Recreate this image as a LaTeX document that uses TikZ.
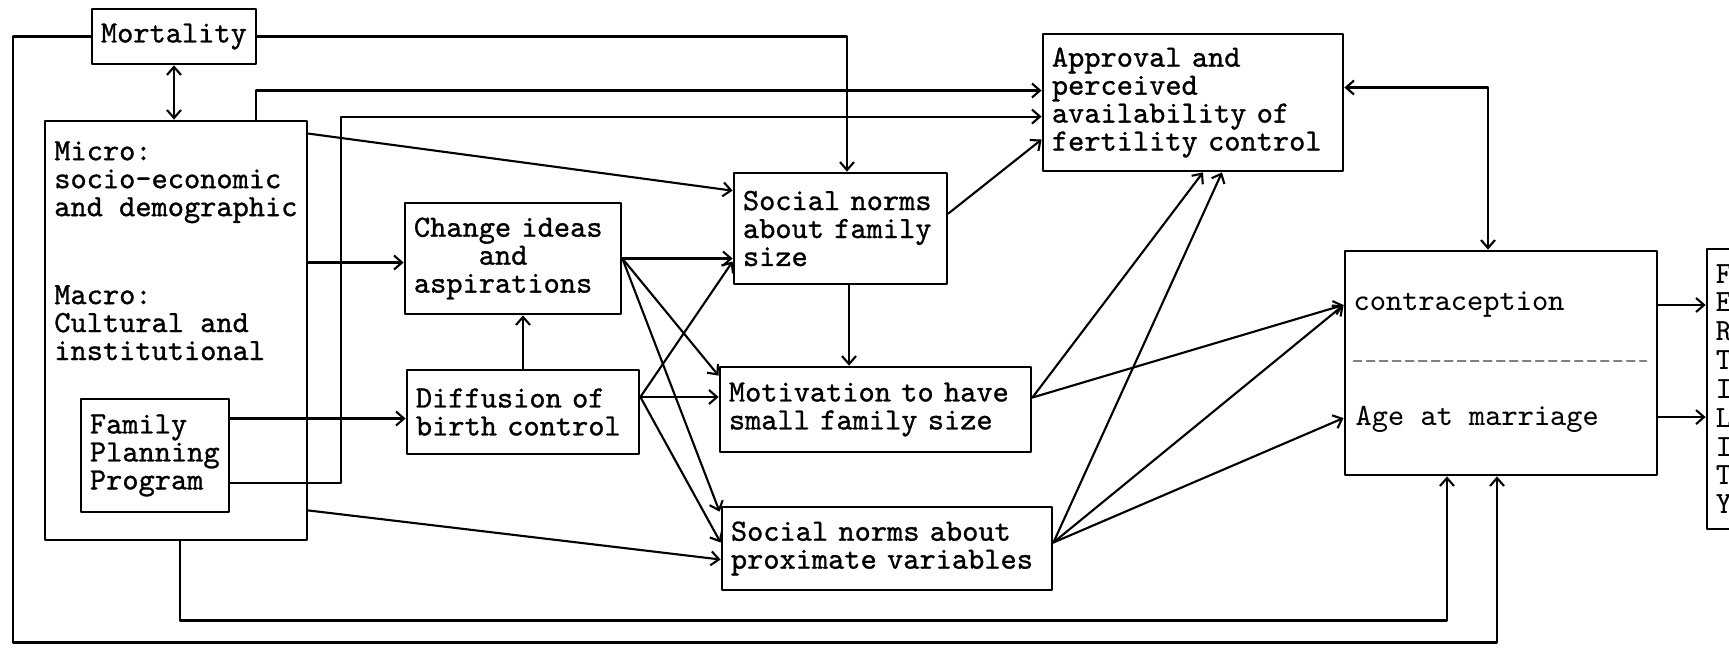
\documentclass[tikz,border=0pt]{standalone}
\usepackage{fontspec}
\newfontfamily\typewfont{lmmono10-regular.otf}[FakeBold=1]
\usetikzlibrary{arrows.meta,calc,positioning}

\begin{document}
\begin{tikzpicture}[x=0.01cm,y=-0.01cm,line cap=round,line join=round,
  >={Straight Barb[length=0.8mm,width=1.4mm]},
  box/.style={draw,line width=0.75pt,inner xsep=0.09cm,inner ysep=0,align=left,
   font=\typewfont\fontsize{8.78}{7.95}\selectfont},
  plain/.style={inner sep=0,align=left,font=\ttfamily\fontsize{8.78}{7.95}\selectfont},
  link/.style={->,line width=0.6pt}]
 \useasboundingbox (0,0) rectangle (1729,647);

 % boxes
 \node[box,text width=1.46cm,minimum height=0.55cm] (mort) at (174,36.5) {Mortality};
 \node[box,minimum width=2.62cm,minimum height=4.19cm] (micro) at (176,330.5) {};
 \node[box,draw=none,inner sep=0,anchor=north west] (microtxt) at (53,140)
  {Micro:\\socio-economic\\and demographic\\[0.6cm]Macro:\\Cultural and\\institutional};
 \node[box,text width=1.30cm,minimum height=1.13cm] (fpp) at (155,455.5)
  {Family\\Planning\\Program};
 \node[box,text width=1.98cm,minimum height=1.11cm] (change) at (513,258.5)
  {Change ideas\\\phantom{Chan}and\\aspirations};
 \node[box,text width=2.14cm,minimum height=0.84cm] (diff) at (523,412)
  {Diffusion of\\birth control};
 \node[box,text width=1.95cm,minimum height=1.11cm] (sfam) at (840.5,228.5)
  {Social norms\\about family\\size};
 \node[box,text width=2.93cm,minimum height=0.85cm] (motiv) at (875.5,409.5)
  {Motivation to have\\small family size};
 \node[box,text width=3.12cm,minimum height=0.83cm] (sprox) at (887,548.5)
  {Social norms about\\proximate variables};
 \node[box,text width=2.82cm,minimum height=1.37cm] (appr) at (1193,102.5)
  {Approval and\\perceived\\availability of\\fertility control};
 \node[box,minimum width=3.12cm,minimum height=2.24cm] (fert) at (1501,363) {};
 \node[plain,anchor=west] (contra) at (1353,305) {contraception};
 \node[plain,anchor=west] (agemar) at (1355,419) {Age at marriage};
 \draw[gray,line width=0.5pt,dash pattern=on 0.08cm off 0.05cm]
  ($(fert.west)+(10,-2)$) -- ($(fert.east)+(-12,-2)$);
 \node[box,text width=0.82cm,minimum height=2.80cm,
  font=\ttfamily\fontsize{8.78}{8.2}\selectfont] (fbox) at (1757,389)
  {F\\E\\R\\T\\I\\L\\I\\T\\Y};

 % loops round the outside
 \draw[<->,line width=0.6pt] (mort.south) -- (mort.south |- micro.north);
 \draw[link] (mort.east) -| ([xshift=0.065cm]sfam.north);
 \coordinate (loopout) at ($(mort.west)+(-78,606)$);
 \draw[link] (mort.west) -| (loopout) -| ($(fert.south)+(-4,0)$);
 \coordinate (loopin) at ($(micro.south)+(4,79)$);
 \draw[link] ($(micro.south)+(4,0)$) -- (loopin) -| ($(fert.south)+(-54,0)$);
 \draw[link] ($(micro.north)+(80,0)$) |- ($(appr.west)+(0,-12)$);
 \coordinate (fppbend) at ($(micro.north east)+(33,-3)$);
 \draw[link] ($(fpp.east)+(0,27.5)$) -| (fppbend) -- (fppbend -| appr.west);

 % background variables
 \draw[link] ($(micro.north east)+(0,14)$) -- ($(sfam.north west)+(0,19)$);
 \draw[link] ($(micro.east)+(0,-68)$) -- ($(change.west)+(0,4)$);
 \draw[link] ($(fpp.east)+(0,-37)$) -- ($(diff.west)+(0,6.5)$);
 \draw[link] ($(micro.south east)+(0,-31)$) -- ($(sprox.west)+(0,11)$);
 \draw[link] (diff.north) -- (diff.north |- change.south);

 % ideas and diffusion
 \draw[link] (change.east) -- (change.east -| sfam.west);
 \draw[link] (change.east) -- ($(motiv.north west)+(0,10)$);
 \draw[link] (change.east) -- ($(sprox.north west)+(-1,6)$);
 \draw[link] ($(diff.east)+(0,-15)$) -- ($(sfam.west)+(0,33)$);
 \draw[link] ($(diff.east)+(0,-15)$) -- ($(motiv.west)+(0,-12.5)$);
 \draw[link] ($(diff.east)+(0,-15)$) -- ($(sprox.west)+(0,-6)$);

 % norms and motivation
 \draw[link] ([xshift=0.085cm]sfam.south) -- ([xshift=0.085cm]sfam.south |- motiv.north);
 \draw[link] ($(sfam.east)+(0,-15)$) -- ($(appr.west)+(0,37)$);
 \draw[link] ($(motiv.east)+(0,-12)$) -- ($(appr.south)+(10,0)$);
 \draw[link] ($(motiv.east)+(0,-12)$) -- ($(fert.west)+(0,-58)$);
 \draw[link] ($(sprox.east)+(0,-6)$) -- ($(appr.south)+(29,0)$);
 \draw[link] ($(sprox.east)+(0,-6)$) -- ($(fert.west)+(0,-58)$);
 \draw[link] ($(sprox.east)+(0,-6)$) -- ($(fert.west)+(0,55)$);

 % proximate variables to fertility
 \draw[<->,line width=0.6pt] ($(appr.east)+(0,-15)$) -| ($(fert.north)+(-13,0)$);
 \draw[link] ([yshift=0.58cm]fert.east) -- ([yshift=0.58cm]fert.east -| fbox.west);
 \draw[link] ([yshift=-0.54cm]fert.east) -- ([yshift=-0.54cm]fert.east -| fbox.west);
\end{tikzpicture}
\end{document}
